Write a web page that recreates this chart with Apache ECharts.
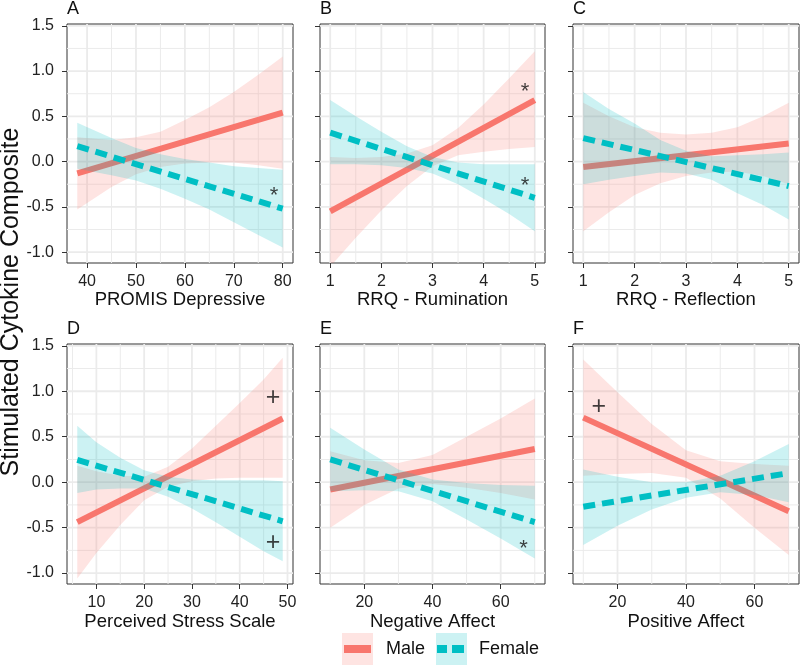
<!DOCTYPE html>
<html>
<head>
<meta charset="utf-8">
<script src="https://cdn.jsdelivr.net/npm/echarts@6/dist/echarts.min.js"></script>
<style>
  html, body { margin: 0; padding: 0; background: #fff; }
  #chart { width: 800px; height: 665px; }
</style>
</head>
<body>
<div id="chart"></div>
<script>
// ---- data ----
const yTicks = [-1.0, -0.5, 0.0, 0.5, 1.0, 1.5]
const yMinor = [-0.75, -0.25, 0.25, 0.75, 1.25]

// A  PROMIS Depressive
const ticksA = [40, 50, 60, 70, 80]
const minorA = [45, 55, 65, 75]
const lineXA = [38, 80]
const maleA = [-0.13, 0.54]
const femaleA = [0.17, -0.52]
const bandXA = [38, 45, 50, 55, 60, 65, 70, 75, 80]
const maleHiA = [0.27, 0.24, 0.27, 0.33, 0.46, 0.60, 0.77, 0.96, 1.16]
const maleLoA = [-0.53, -0.28, -0.14, -0.06, -0.02, -0.01, -0.01, -0.04, -0.08]
const femHiA = [0.43, 0.26, 0.15, 0.08, 0.03, -0.01, -0.05, -0.07, -0.09]
const femLoA = [-0.08, -0.15, -0.21, -0.30, -0.41, -0.53, -0.67, -0.81, -0.95]
const marksA = [[78.2, -0.31, '*']]

// B  RRQ - Rumination
const ticksB = [1, 2, 3, 4, 5]
const minorB = [1.5, 2.5, 3.5, 4.5]
const lineXB = [1, 5]
const maleB = [-0.55, 0.68]
const femaleB = [0.32, -0.40]
const bandXB = [1, 1.5, 2, 2.5, 3, 3.5, 4, 4.5, 5]
const maleHiB = [0.05, 0.04, 0.05, 0.09, 0.18, 0.37, 0.63, 0.92, 1.22]
const maleLoB = [-1.16, -0.84, -0.54, -0.27, -0.05, 0.07, 0.11, 0.14, 0.16]
const femHiB = [0.68, 0.50, 0.33, 0.17, 0.05, -0.01, -0.03, -0.03, -0.03]
const femLoB = [-0.03, -0.03, -0.04, -0.07, -0.13, -0.25, -0.41, -0.58, -0.77]
const marksB = [[4.81, 0.84, '*'], [4.81, -0.2, '*']]

// C  RRQ - Reflection
const ticksC = [1, 2, 3, 4, 5]
const minorC = [1.5, 2.5, 3.5, 4.5]
const lineXC = [1, 5]
const maleC = [-0.06, 0.20]
const femaleC = [0.26, -0.27]
const bandXC = [1, 1.5, 2, 2.5, 3, 3.5, 4, 4.5, 5]
const maleHiC = [0.65, 0.50, 0.38, 0.32, 0.30, 0.32, 0.38, 0.50, 0.65]
const maleLoC = [-0.77, -0.56, -0.37, -0.24, -0.16, -0.12, -0.11, -0.16, -0.25]
const femHiC = [0.77, 0.58, 0.42, 0.24, 0.12, 0.06, 0.07, 0.08, 0.10]
const femLoC = [-0.25, -0.20, -0.16, -0.12, -0.13, -0.20, -0.35, -0.48, -0.64]
const marksC = []

// D  Perceived Stress Scale
const ticksD = [10, 20, 30, 40, 50]
const minorD = [5, 15, 25, 35, 45]
const lineXD = [6, 49]
const maleD = [-0.44, 0.70]
const femaleD = [0.245, -0.43]
const bandXD = [6, 10, 15, 20, 25, 30, 35, 40, 45, 49]
const maleHiD = [0.18, 0.12, 0.07, 0.06, 0.17, 0.37, 0.62, 0.87, 1.13, 1.37]
const maleLoD = [-1.06, -0.78, -0.47, -0.20, -0.05, 0.01, 0.04, 0.05, 0.05, 0.05]
const femHiD = [0.62, 0.44, 0.27, 0.13, 0.06, 0.03, 0.02, 0.02, 0.02, 0.01]
const femLoD = [-0.12, -0.08, -0.07, -0.07, -0.16, -0.29, -0.44, -0.60, -0.76, -0.87]
const marksD = [[47.0, 0.93, '+'], [47.0, -0.675, '+']]

// E  Negative Affect
const ticksE = [20, 40, 60]
const minorE = [10, 30, 50, 70]
const lineXE = [10, 70]
const maleE = [-0.08, 0.365]
const femaleE = [0.25, -0.44]
const bandXE = [10, 20, 30, 40, 50, 60, 70]
const maleHiE = [0.34, 0.24, 0.21, 0.30, 0.50, 0.70, 0.92]
const maleLoE = [-0.50, -0.25, -0.07, -0.02, -0.06, -0.12, -0.19]
const femHiE = [0.60, 0.36, 0.14, 0.03, -0.01, -0.03, -0.04]
const femLoE = [-0.10, -0.09, -0.10, -0.21, -0.41, -0.62, -0.84]
const marksE = [[66.7, -0.67, '*']]

// F  Positive Affect
const ticksF = [20, 40, 60]
const minorF = [10, 30, 50, 70]
const lineXF = [10, 70]
const maleF = [0.71, -0.32]
const femaleF = [-0.27, 0.10]
const bandXF = [10, 20, 30, 40, 50, 60, 70]
const maleHiF = [1.35, 0.99, 0.64, 0.35, 0.23, 0.20, 0.18]
const maleLoF = [0.07, 0.09, 0.10, 0.05, -0.18, -0.50, -0.80]
const femHiF = [0.14, 0.06, 0.00, 0.00, 0.07, 0.23, 0.42]
const femLoF = [-0.69, -0.48, -0.30, -0.17, -0.11, -0.14, -0.22]
const marksF = [[14.5, 0.83, '+']]

// ---- panel setup ----
const panels = [
  { letter: 'A', title: 'PROMIS Depressive', xMin: 35.9, xMax: 82.1, ticks: ticksA, minor: minorA, lineX: lineXA, male: maleA, female: femaleA, bandX: bandXA, maleHi: maleHiA, maleLo: maleLoA, femHi: femHiA, femLo: femLoA, marks: marksA },
  { letter: 'B', title: 'RRQ - Rumination', xMin: 0.8, xMax: 5.2, ticks: ticksB, minor: minorB, lineX: lineXB, male: maleB, female: femaleB, bandX: bandXB, maleHi: maleHiB, maleLo: maleLoB, femHi: femHiB, femLo: femLoB, marks: marksB },
  { letter: 'C', title: 'RRQ - Reflection', xMin: 0.8, xMax: 5.2, ticks: ticksC, minor: minorC, lineX: lineXC, male: maleC, female: femaleC, bandX: bandXC, maleHi: maleHiC, maleLo: maleLoC, femHi: femHiC, femLo: femLoC, marks: marksC },
  { letter: 'D', title: 'Perceived Stress Scale', xMin: 3.85, xMax: 51.15, ticks: ticksD, minor: minorD, lineX: lineXD, male: maleD, female: femaleD, bandX: bandXD, maleHi: maleHiD, maleLo: maleLoD, femHi: femHiD, femLo: femLoD, marks: marksD },
  { letter: 'E', title: 'Negative Affect', xMin: 7, xMax: 73, ticks: ticksE, minor: minorE, lineX: lineXE, male: maleE, female: femaleE, bandX: bandXE, maleHi: maleHiE, maleLo: maleLoE, femHi: femHiE, femLo: femLoE, marks: marksE },
  { letter: 'F', title: 'Positive Affect', xMin: 7, xMax: 73, ticks: ticksF, minor: minorF, lineX: lineXF, male: maleF, female: femaleF, bandX: bandXF, maleHi: maleHiF, maleLo: maleLoF, femHi: femHiF, femLo: femLoF, marks: marksF }
]

const MALE = '#F8766D'
const FEMALE = '#00BFC4'
const MALE_FILL = 'rgba(248,118,109,0.2)'
const FEMALE_FILL = 'rgba(0,191,196,0.2)'
const FONT = 'Liberation Sans'

const colLeft = [67, 320, 573]
const colWidth = [226, 225, 226]
const rowTop = [24, 344]
const rowHeight = [239, 240]

// 灰色网格线
function gridLineRender(params, api) {
  const v = api.value(0)
  const horiz = api.value(1)
  const minor = api.value(2)
  const cs = params.coordSys
  const p = api.coord([v, v])
  const shape = horiz
    ? { x1: cs.x, y1: p[1], x2: cs.x + cs.width, y2: p[1] }
    : { x1: p[0], y1: cs.y, x2: p[0], y2: cs.y + cs.height }
  return {
    type: 'line',
    shape: shape,
    style: { stroke: '#EBEBEB', lineWidth: minor ? 1 : 1.8 }
  }
}

// 置信区间带
function bandRender(xs, hi, lo, fill) {
  return function (params, api) {
    if (params.dataIndex !== 0) return null
    const pts = []
    for (let i = 0; i < xs.length; i++) pts.push(api.coord([xs[i], hi[i]]))
    for (let i = xs.length - 1; i >= 0; i--) pts.push(api.coord([xs[i], lo[i]]))
    return { type: 'polygon', shape: { points: pts }, style: { fill: fill } }
  }
}

const grids = [], xAxes = [], yAxes = [], series = [], graphics = []

panels.forEach((p, i) => {
  const row = Math.floor(i / 3), col = i % 3
  grids.push({
    left: colLeft[col], top: rowTop[row], width: colWidth[col], height: rowHeight[row],
    show: true, borderColor: '#333', borderWidth: 1, backgroundColor: 'transparent'
  })
  xAxes.push({
    type: 'value', gridIndex: i, min: p.xMin, max: p.xMax,
    axisLine: { show: false, onZero: false },
    axisTick: { show: true, length: 5, customValues: p.ticks, lineStyle: { color: '#333' } },
    axisLabel: { customValues: p.ticks, fontSize: 16, color: '#222', margin: 11, fontFamily: FONT },
    splitLine: { show: false },
    name: p.title, nameLocation: 'middle', nameGap: row === 0 ? 26 : 28,
    nameTextStyle: { fontSize: 18.5, color: '#111', fontFamily: FONT }
  })
  yAxes.push({
    type: 'value', gridIndex: i, min: -1.12, max: 1.52,
    axisLine: { show: false, onZero: false },
    axisTick: { show: true, length: 5, customValues: yTicks, lineStyle: { color: '#333' } },
    axisLabel: {
      show: col === 0, customValues: yTicks, fontSize: 16, color: '#222', margin: 13, fontFamily: FONT,
      formatter: v => v.toFixed(1)
    },
    splitLine: { show: false }
  })

  const gl = []
  p.ticks.forEach(v => gl.push([v, 0, 0]))
  p.minor.forEach(v => gl.push([v, 0, 1]))
  yTicks.forEach(v => gl.push([v, 1, 0]))
  yMinor.forEach(v => gl.push([v, 1, 1]))
  series.push({
    type: 'custom', xAxisIndex: i, yAxisIndex: i, z: 1, silent: true,
    renderItem: gridLineRender, data: gl
  })

  const bandData = (hi, lo) => p.bandX.map((x, k) => [x, lo[k], hi[k]])
  series.push({
    type: 'custom', xAxisIndex: i, yAxisIndex: i, z: 2, silent: true, clip: true,
    renderItem: bandRender(p.bandX, p.maleHi, p.maleLo, MALE_FILL), data: bandData(p.maleHi, p.maleLo)
  })
  series.push({
    name: 'Male', type: 'line', xAxisIndex: i, yAxisIndex: i, z: 3, silent: true,
    symbol: 'none', color: MALE,
    lineStyle: { color: MALE, width: 6, cap: 'butt' },
    data: p.lineX.map((x, k) => [x, p.male[k]])
  })
  series.push({
    type: 'custom', xAxisIndex: i, yAxisIndex: i, z: 4, silent: true, clip: true,
    renderItem: bandRender(p.bandX, p.femHi, p.femLo, FEMALE_FILL), data: bandData(p.femHi, p.femLo)
  })
  series.push({
    name: 'Female', type: 'line', xAxisIndex: i, yAxisIndex: i, z: 5, silent: true,
    symbol: 'none', color: FEMALE,
    lineStyle: { color: FEMALE, width: 6, type: [12, 7], cap: 'butt' },
    data: p.lineX.map((x, k) => [x, p.female[k]])
  })
  if (p.marks.length) {
    series.push({
      type: 'scatter', xAxisIndex: i, yAxisIndex: i, z: 6, silent: true,
      symbolSize: 1, itemStyle: { color: 'transparent' },
      data: p.marks.map(m => ({
        value: [m[0], m[1]],
        label: {
          show: true, position: 'inside', formatter: m[2], color: '#111', fontFamily: FONT,
          fontSize: m[2] === '*' ? 22 : 25,
          offset: m[2] === '*' ? [0, 6] : [0, 0]
        }
      }))
    })
  }

  // 面板字母
  graphics.push({
    type: 'text', x: colLeft[col], y: rowTop[row] - 24,
    style: { text: p.letter, fontSize: 18, fill: '#111', fontFamily: FONT, textVerticalAlign: 'top' }
  })
})

// y 轴总标题
graphics.push({
  type: 'text', x: 11, y: 302, rotation: Math.PI / 2,
  style: { text: 'Stimulated Cytokine Composite', fontSize: 25, fill: '#111', fontFamily: FONT, textAlign: 'center', textVerticalAlign: 'middle' }
})
// 图例底色块
graphics.push({ type: 'rect', z: 0, shape: { x: 342, y: 633, width: 31, height: 32 }, style: { fill: MALE_FILL } })
graphics.push({ type: 'rect', z: 0, shape: { x: 436, y: 633, width: 31, height: 32 }, style: { fill: FEMALE_FILL } })

const chart = echarts.init(document.getElementById('chart'), null, { renderer: 'canvas' })
chart.setOption({
  animation: false,
  textStyle: { fontFamily: FONT },
  grid: grids,
  xAxis: xAxes,
  yAxis: yAxes,
  legend: {
    data: [
      { name: 'Male', icon: 'rect' },
      { name: 'Female', icon: 'path://M0,0H10V8H0Z M15,0H27V8H15Z' }
    ],
    left: 344, top: 640, orient: 'horizontal',
    itemWidth: 27, itemHeight: 8, itemGap: 12, padding: 0, z: 10,
    selectedMode: false,
    textStyle: { fontSize: 18, color: '#111', fontFamily: FONT, padding: [0, 0, 0, 10] }
  },
  graphic: graphics,
  series: series
})
</script>
</body>
</html>
